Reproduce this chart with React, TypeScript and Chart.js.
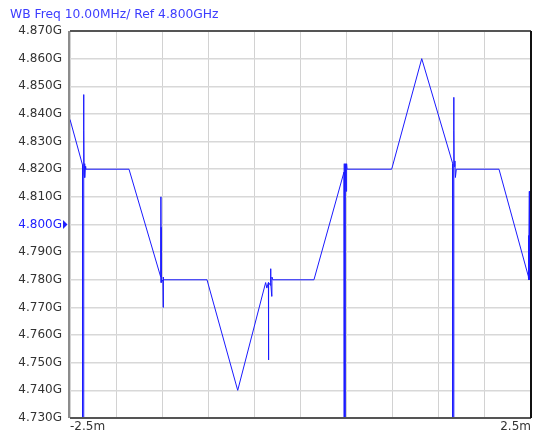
import React, { useEffect, useRef } from "react";
import { Chart, registerables } from "chart.js";

Chart.register(...registerables);

const titleText = "WB Freq 10.00MHz/ Ref 4.800GHz";
const refFreq = 4.8;
const xTickLabels = ["-2.5m", "2.5m"];
const yMin = 4.73;
const yMax = 4.87;
const yStep = 0.01;
const xMin = -2.5;
const xMax = 2.5;
const xStep = 0.5;

// time offset (ms)
const timeMs = [
  -2.5, -2.364, -2.364, -2.353, -2.353, -2.351, -2.349, -2.347, -2.343, -2.338, -2.334, -2.33,
  -1.86, -1.516, -1.514, -1.513, -1.512, -1.51, -1.491, -1.49, -1.489, -1.485,
  -1.014, -0.681, -0.378, -0.365, -0.348, -0.347, -0.345, -0.326, -0.324, -0.322, -0.312, -0.31, -0.3,
  0.146, 0.472, 0.474, 0.476, 0.487, 0.487, 0.495, 0.5, 0.505,
  0.989, 1.315, 1.651, 1.651, 1.662, 1.662, 1.664, 1.667, 1.675, 1.68, 1.69,
  2.153, 2.471, 2.471, 2.473, 2.478, 2.482, 2.484, 2.5,
];
// measured frequency (GHz)
const freqGHz = [
  4.838, 4.8215, 4.73, 4.73, 4.847, 4.822, 4.834, 4.818, 4.822, 4.817, 4.821, 4.82,
  4.82, 4.781, 4.81, 4.782, 4.799, 4.779, 4.78, 4.77, 4.781, 4.78,
  4.78, 4.74, 4.779, 4.777, 4.779, 4.751, 4.779, 4.778, 4.784, 4.779, 4.774, 4.781, 4.78,
  4.78, 4.819, 4.822, 4.73, 4.73, 4.822, 4.812, 4.822, 4.82,
  4.82, 4.86, 4.822, 4.73, 4.73, 4.846, 4.834, 4.821, 4.823, 4.817, 4.82,
  4.82, 4.7813, 4.796, 4.781, 4.78, 4.812, 4.78, 4.782,
];

const FONT = "'DejaVu Sans', Verdana, sans-serif";

const decorPlugin = {
  id: "decor",
  afterDraw(chart: any) {
    const { ctx, chartArea } = chart;
    const { left, right, top, bottom } = chartArea;
    ctx.save();
    // title
    ctx.fillStyle = "#3c3cff";
    ctx.font = `12.3px ${FONT}`;
    ctx.textBaseline = "alphabetic";
    ctx.textAlign = "left";
    ctx.fillText(titleText, 10, 18);
    // borders
    ctx.lineWidth = 2;
    ctx.strokeStyle = "#555555";
    ctx.beginPath();
    ctx.moveTo(left, top);
    ctx.lineTo(right, top);
    ctx.stroke();
    ctx.beginPath();
    ctx.moveTo(left, bottom);
    ctx.lineTo(right, bottom);
    ctx.stroke();
    ctx.strokeStyle = "#8c8c8c";
    ctx.beginPath();
    ctx.moveTo(left - 1, top);
    ctx.lineTo(left - 1, bottom);
    ctx.stroke();
    ctx.strokeStyle = "#111111";
    ctx.beginPath();
    ctx.moveTo(right, top);
    ctx.lineTo(right, bottom);
    ctx.stroke();
    // reference marker
    const yRef = chart.scales.y.getPixelForValue(refFreq);
    ctx.fillStyle = "#2020ff";
    ctx.beginPath();
    ctx.moveTo(left - 7, yRef - 4.5);
    ctx.lineTo(left - 2.5, yRef);
    ctx.lineTo(left - 7, yRef + 4.5);
    ctx.closePath();
    ctx.fill();
    ctx.restore();
  },
};

export default function App() {
  const ref = useRef<HTMLCanvasElement | null>(null);
  useEffect(() => {
    document.body.style.margin = "0";
    document.body.style.background = "#ffffff";
    if (!ref.current) return;
    const points = timeMs.map((t, i) => ({ x: t, y: freqGHz[i] }));
    const chart = new Chart(ref.current, {
      type: "line",
      data: {
        datasets: [
          {
            data: points,
            borderColor: "#1a1aff",
            borderWidth: 1,
            pointRadius: 0,
            tension: 0,
            fill: false,
          },
        ],
      },
      options: {
        animation: false,
        responsive: false,
        maintainAspectRatio: false,
        layout: { padding: { left: 0, right: 11, top: 31, bottom: 0 } },
        plugins: { legend: { display: false }, tooltip: { enabled: false }, title: { display: false } },
        scales: {
          x: {
            type: "linear",
            min: xMin,
            max: xMax,
            afterFit(scale: any) {
              scale.height = 20;
            },
            border: { display: false },
            grid: { color: "#d2d2d2", lineWidth: 1, drawTicks: false },
            ticks: {
              stepSize: xStep,
              align: "inner",
              padding: 2,
              color: "#333333",
              font: { family: FONT, size: 12 },
              autoSkip: false,
              maxRotation: 0,
              callback: (v: any) => {
                const n = Number(v);
                if (Math.abs(n - xMin) < 1e-6) return xTickLabels[0];
                if (Math.abs(n - xMax) < 1e-6) return xTickLabels[1];
                return "";
              },
            },
          },
          y: {
            min: yMin,
            max: yMax,
            afterFit(scale: any) {
              scale.width = 70;
            },
            border: { display: false },
            grid: { color: "#d8d8d8", lineWidth: 1.5, drawTicks: false },
            ticks: {
              stepSize: yStep,
              padding: 8,
              autoSkip: false,
              font: { family: FONT, size: 12 },
              color: (c: any) => (Math.abs(c.tick.value - refFreq) < 1e-6 ? "#2020ff" : "#333333"),
              callback: (v: any) => Number(v).toFixed(3) + "G",
            },
          },
        },
      },
      plugins: [decorPlugin],
    });
    return () => chart.destroy();
  }, []);
  return (
    <div style={{ width: 542, height: 438 }}>
      <canvas ref={ref} width={542} height={438} style={{ display: "block" }} />
    </div>
  );
}
